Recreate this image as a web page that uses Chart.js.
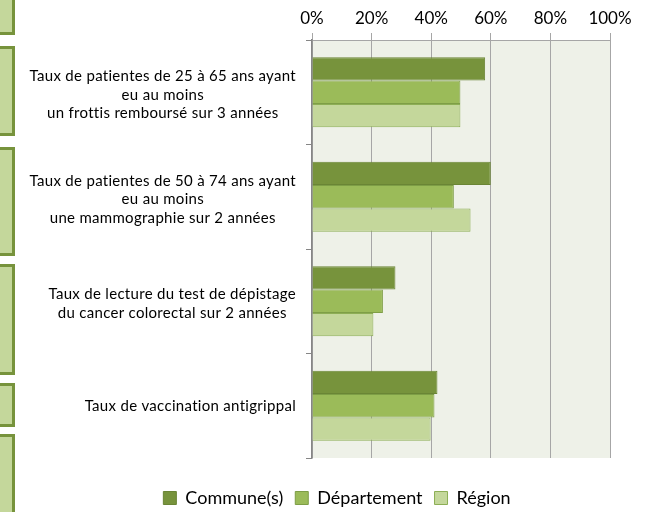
<!DOCTYPE html>
<html>
<head>
<meta charset="utf-8">
<script src="https://cdn.jsdelivr.net/npm/chart.js@4"></script>
<style>
  html, body { margin: 0; padding: 0; background: #fff; }
  #wrap { position: relative; width: 656px; height: 512px; overflow: hidden; }
  canvas { position: absolute; left: 0; top: 0; }
  .side { position: absolute; left: -10px; width: 25px; box-sizing: border-box;
          background: #C4D79B; border: 3px solid #77933C; }
</style>
</head>
<body>
<div id="wrap">
  <div class="side" style="top:-6px;height:41px"></div>
  <div class="side" style="top:46px;height:90px"></div>
  <div class="side" style="top:147px;height:109px"></div>
  <div class="side" style="top:264px;height:111px"></div>
  <div class="side" style="top:383px;height:44px"></div>
  <div class="side" style="top:434px;height:90px"></div>
  <canvas id="c" width="656" height="512"></canvas>
</div>
<script>
const categories = [
  ["Taux de patientes de 25 à 65 ans ayant", "eu au moins", "un frottis remboursé sur 3 années"],
  ["Taux de patientes de 50 à 74 ans ayant", "eu au moins", "une mammographie sur 2 années"],
  ["Taux de lecture du test de dépistage", "du cancer colorectal sur 2 années"],
  ["Taux de vaccination antigrippal"]
];
const seriesNames = ["Commune(s)", "Département", "Région"];
const communeValues = [58.1, 60.0, 28.0, 42.1];
const departementValues = [49.8, 47.6, 23.8, 41.1];
const regionValues = [49.8, 53.2, 20.6, 39.8];
const xTickValues = [0, 20, 40, 60, 80, 100];

const FONT = "Lato, 'Open Sans', sans-serif";

const bgPlugin = {
  id: 'plotBg',
  beforeDraw(chart) {
    const {ctx, chartArea: a} = chart;
    ctx.save();
    ctx.fillStyle = '#EEF1E8';
    ctx.fillRect(a.left, a.top, a.right - a.left, a.bottom - a.top);
    ctx.restore();
  }
};

const labelPlugin = {
  id: 'blockLabels',
  afterDraw(chart) {
    const {ctx} = chart;
    const yScale = chart.scales.y;
    const rightEdge = yScale.right - 16;
    const lh = 18.5;
    ctx.save();
    ctx.font = "15px " + FONT;
    if ('letterSpacing' in ctx) ctx.letterSpacing = '0.3px';
    ctx.fillStyle = '#000';
    ctx.textAlign = 'center';
    ctx.textBaseline = 'middle';
    categories.forEach((lines, i) => {
      const cy = yScale.getPixelForValue(i) + (lines.length > 1 ? 2.5 : 0);
      const w = Math.max(...lines.map(l => ctx.measureText(l).width));
      const cx = rightEdge - w / 2;
      const y0 = cy - (lines.length - 1) * lh / 2;
      lines.forEach((l, j) => ctx.fillText(l, cx, y0 + j * lh));
    });
    ctx.restore();
  }
};

new Chart(document.getElementById('c'), {
  type: 'bar',
  data: {
    labels: categories,
    datasets: [
      { label: seriesNames[0], data: communeValues, backgroundColor: '#77933C', borderColor: '#6A8535', borderWidth: 1 },
      { label: seriesNames[1], data: departementValues, backgroundColor: '#9BBB59', borderColor: '#7E9E46', borderWidth: 1 },
      { label: seriesNames[2], data: regionValues, backgroundColor: '#C4D79B', borderColor: '#8DAE55', borderWidth: 1 }
    ]
  },
  options: {
    indexAxis: 'y',
    responsive: false,
    animation: false,
    devicePixelRatio: 1,
    datasets: { bar: { barPercentage: 1, categoryPercentage: 0.67 } },
    layout: { padding: { left: 64, right: 46, top: 0, bottom: -5 } },
    scales: {
      x: {
        position: 'top',
        min: 0, max: 100,
        afterBuildTicks(scale) { scale.ticks = xTickValues.map(v => ({ value: v })); },
        afterFit(scale) { scale.height = 40; },
        ticks: {
          callback: v => v + '%',
          color: '#000',
          font: { family: FONT, size: 17 },
          padding: 4,
          maxRotation: 0
        },
        grid: { color: '#A6A6A6', tickLength: 7, lineWidth: 1 },
        border: { display: true, color: '#A6A6A6' }
      },
      y: {
        afterFit(scale) { scale.width = 248; },
        ticks: { color: 'rgba(0,0,0,0)', font: { family: FONT, size: 14 } },
        grid: { offset: true, drawOnChartArea: false, tickLength: 6, color: '#868686' },
        border: { display: true, color: '#868686', width: 1.5 }
      }
    },
    plugins: {
      legend: {
        position: 'bottom',
        title: { display: true, text: ' ', font: { size: 13, lineHeight: 1 }, padding: 3 },
        labels: {
          boxWidth: 13, boxHeight: 13, padding: 12,
          color: '#000',
          font: { family: FONT, size: 18 }
        }
      },
      tooltip: { enabled: false }
    }
  },
  plugins: [bgPlugin, labelPlugin]
});
</script>
</body>
</html>
